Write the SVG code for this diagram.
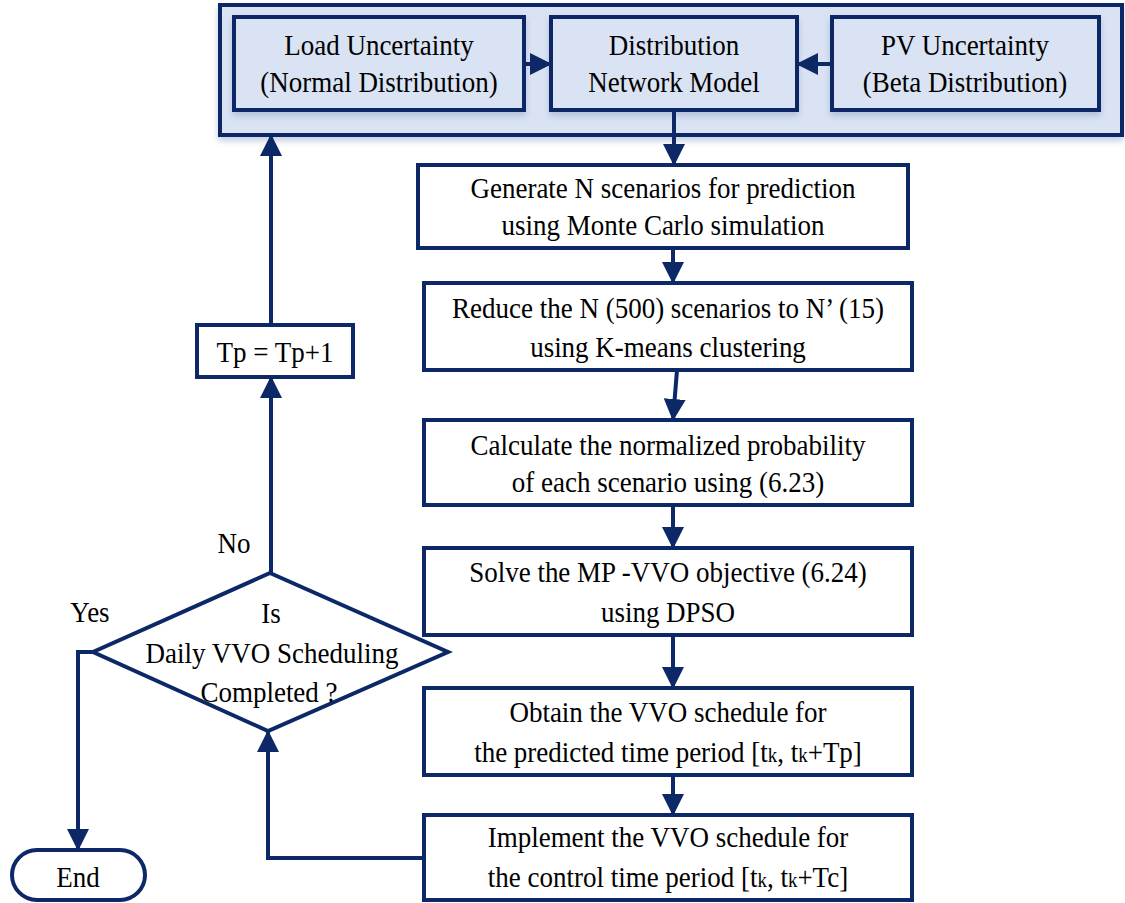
<svg xmlns="http://www.w3.org/2000/svg" width="1125" height="903" viewBox="0 0 1125 903">
<defs>
<marker id="ah" markerUnits="userSpaceOnUse" markerWidth="22" markerHeight="22" viewBox="0 0 22 22" refX="21" refY="11" orient="auto">
<path d="M0,0 L22,11 L0,22 z" fill="#0c2866"/>
</marker>
<filter id="sh" x="-10%" y="-10%" width="120%" height="130%">
<feDropShadow dx="0" dy="4" stdDeviation="3" flood-color="#8a9cc4" flood-opacity="0.5"/>
</filter>
</defs>
<style>
.t{font-family:"Liberation Serif","Times New Roman",serif;font-size:30px;fill:#000;text-anchor:middle}
.box{fill:#fff;stroke:#0c2866;stroke-width:4}
.ibox{fill:#dae3f3;stroke:#0c2866;stroke-width:4}
.c{fill:none;stroke:#0c2866;stroke-width:4;marker-end:url(#ah)}
.k{font-size:21px}
</style>
<rect width="1125" height="903" fill="#fff"/>
<g id="container">
<rect x="220" y="5" width="902" height="130" class="ibox" filter="url(#sh)"/>
</g>
<g id="load">
<rect x="234" y="17" width="290" height="93" class="ibox" filter="url(#sh)"/>
<text class="t" transform="translate(379 55) scale(0.9 1)">Load Uncertainty</text>
<text class="t" transform="translate(379 92) scale(0.9 1)">(Normal Distribution)</text>
</g>
<g id="dist">
<rect x="551" y="17" width="246" height="93" class="ibox" filter="url(#sh)"/>
<text class="t" transform="translate(674 55) scale(0.9 1)">Distribution</text>
<text class="t" transform="translate(674 92) scale(0.9 1)">Network Model</text>
</g>
<g id="pv">
<rect x="832" y="17" width="267" height="93" class="ibox" filter="url(#sh)"/>
<text class="t" transform="translate(965 55) scale(0.9 1)">PV Uncertainty</text>
<text class="t" transform="translate(965 92) scale(0.9 1)">(Beta Distribution)</text>
</g>
<g id="generate">
<rect x="418" y="165" width="490" height="83" class="box"/>
<text class="t" transform="translate(663 198) scale(0.9 1)">Generate N scenarios for prediction</text>
<text class="t" transform="translate(663 235) scale(0.9 1)">using Monte Carlo simulation</text>
</g>
<g id="reduce">
<rect x="424" y="283" width="488" height="87" class="box"/>
<text class="t" transform="translate(668 318) scale(0.9 1)">Reduce the N (500) scenarios to N’ (15)</text>
<text class="t" transform="translate(668 357) scale(0.9 1)">using K-means clustering</text>
</g>
<g id="calculate">
<rect x="424" y="420" width="488" height="85" class="box"/>
<text class="t" transform="translate(668 455) scale(0.9 1)">Calculate the normalized probability</text>
<text class="t" transform="translate(668 492) scale(0.9 1)">of each scenario using (6.23)</text>
</g>
<g id="solve">
<rect x="424" y="548" width="488" height="87" class="box"/>
<text class="t" transform="translate(668 582) scale(0.9 1)">Solve the MP -VVO objective (6.24)</text>
<text class="t" transform="translate(668 622) scale(0.9 1)">using DPSO</text>
</g>
<g id="obtain">
<rect x="424" y="688" width="488" height="87" class="box"/>
<text class="t" transform="translate(668 722) scale(0.9 1)">Obtain the VVO schedule for</text>
<text class="t" transform="translate(668 762) scale(0.9 1)">the predicted time period [t<tspan class="k">k</tspan>, t<tspan class="k">k</tspan>+Tp]</text>
</g>
<g id="implement">
<rect x="424" y="815" width="488" height="85" class="box"/>
<text class="t" transform="translate(668 847) scale(0.9 1)">Implement the VVO schedule for</text>
<text class="t" transform="translate(668 887) scale(0.9 1)">the control time period [t<tspan class="k">k</tspan>, t<tspan class="k">k</tspan>+Tc]</text>
</g>
<g id="decision">
<polygon points="270,573 448,652 268,731 93,652" fill="#fff" stroke="#0c2866" stroke-width="4"/>
<text class="t" transform="translate(271 623) scale(0.9 1)">Is</text>
<text class="t" transform="translate(272 663) scale(0.9 1)">Daily VVO Scheduling</text>
<text class="t" transform="translate(269 702) scale(0.9 1)">Completed ?</text>
</g>
<g id="tp">
<rect x="197" y="325" width="156" height="52" class="box"/>
<text class="t" transform="translate(275 362) scale(0.9 1)">Tp = Tp+1</text>
</g>
<g id="end">
<rect x="12" y="850" width="133" height="50" rx="25" ry="25" class="box"/>
<text class="t" transform="translate(78 887) scale(0.9 1)">End</text>
</g>
<g id="labels">
<text class="t" transform="translate(90 622) scale(0.9 1)">Yes</text>
<text class="t" transform="translate(234 553) scale(0.9 1)">No</text>
</g>
<g id="connectors">
<path class="c" d="M524,64 L551,64"/>
<path class="c" d="M832,64 L797,64"/>
<path class="c" d="M674,110 L674,165"/>
<path class="c" d="M673,248 L673,283"/>
<path class="c" d="M677,370 L673,420"/>
<path class="c" d="M673,505 L673,548"/>
<path class="c" d="M673,635 L673,688"/>
<path class="c" d="M673,775 L673,815"/>
<path class="c" d="M424,858 L268,858 L268,731"/>
<path class="c" d="M271,573 L271,377"/>
<path class="c" d="M271,325 L271,135"/>
<path class="c" d="M93,652 L78,652 L78,850"/>
</g>
</svg>
